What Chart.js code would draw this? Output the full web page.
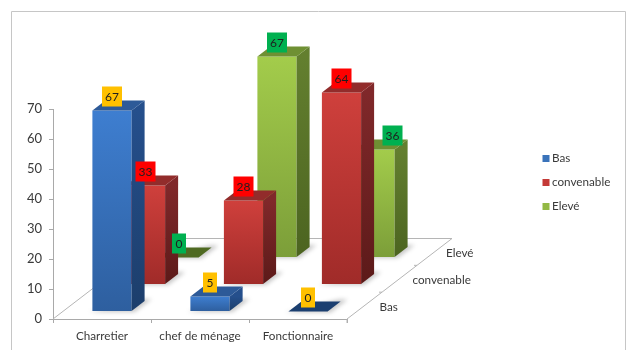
<!DOCTYPE html>
<html lang="fr">
<head>
<meta charset="utf-8">
<title>Niveau par profession</title>
<script src="https://cdn.jsdelivr.net/npm/chart.js@4"></script>
<style>
    html, body { margin: 0; padding: 0; background: #fff; }
    #wrap { position: relative; width: 626px; height: 350px; }
</style>
</head>
<body>
<div id="wrap"><canvas id="niveauChart" width="626" height="350"></canvas></div>
<script>
// Data
const categories = ['Charretier', 'chef de ménage', 'Fonctionnaire'];
const yTicks = [0, 10, 20, 30, 40, 50, 60, 70];
const bas = [67, 5, 0];
const convenable = [33, 28, 64];
const eleve = [0, 67, 36];

// Perspective of the floor: each row moves back and to the right
const ROW_DX = 33.5;
const ROW_DY = -27;
const FIRST_ROW_DX = 10;
const FIRST_ROW_DY = -7.5;
const BAR_DX = 13;
const BAR_DY = -10;
const FLOOR_DX = 105;
const FLOOR_DY = -80.5;
const FONT = 'Lato, "Open Sans", sans-serif';
const TEXT_SIZE = 11.7;
const TEXT_COLOR = '#3a3a3a';

const palette = {
    blue: { top: '#3e7ed0', bottom: '#2e5f9f', cap: '#2d5a98', sideTop: '#254f8c', sideBottom: '#1c3e6b', flat: '#1b3f70', label: '#ffc000', swatch: '#3a73ba' },
    red: { top: '#cf403c', bottom: '#a02b29', cap: '#922c2b', sideTop: '#80282a', sideBottom: '#5c1a19', flat: '#7a2220', label: '#ff0000', swatch: '#c43a37' },
    green: { top: '#a3cc4b', bottom: '#7c9e39', cap: '#6f9033', sideTop: '#637f2f', sideBottom: '#4c6420', flat: '#4f6a22', label: '#00b050', swatch: '#93b944' }
};

function fillPoly(ctx, points, style) {
    ctx.fillStyle = style;
    ctx.beginPath();
    points.forEach((p, i) => i ? ctx.lineTo(p[0], p[1]) : ctx.moveTo(p[0], p[1]));
    ctx.closePath();
    ctx.fill();
}

function rowShift(row) {
    return {
        dx: FIRST_ROW_DX + row * ROW_DX,
        dy: FIRST_ROW_DY + row * ROW_DY
    };
}

// Bar controller that paints each bar as a box standing on the floor
class Bar3dController extends Chart.BarController {
    draw() {
        const ctx = this.chart.ctx;
        const colors = this.getDataset().colors;
        const shift = rowShift(this.index);

        this.getMeta().data.forEach(bar => {
            const left = bar.x - bar.width / 2 + shift.dx;
            const right = left + bar.width;
            const top = bar.y + shift.dy;
            const base = bar.base + shift.dy;

            // soft shadow on the floor
            ctx.save();
            ctx.filter = 'blur(2px)';
            fillPoly(ctx, [
                [left - 3, base + 1], [right + 3, base + 1],
                [right + BAR_DX + 7, base + BAR_DY - 2], [right + BAR_DX - 2, base + BAR_DY - 2]
            ], 'rgba(0, 0, 0, 0.22)');
            ctx.restore();

            if (base - top < 1) {
                fillPoly(ctx, [
                    [left, base], [right, base],
                    [right + BAR_DX, base + BAR_DY], [left + BAR_DX, base + BAR_DY]
                ], colors.flat);
                return;
            }

            const front = ctx.createLinearGradient(0, top, 0, base);
            front.addColorStop(0, colors.top);
            front.addColorStop(1, colors.bottom);
            ctx.fillStyle = front;
            ctx.fillRect(left, top, right - left, base - top);

            const side = ctx.createLinearGradient(0, top, 0, base);
            side.addColorStop(0, colors.sideTop);
            side.addColorStop(1, colors.sideBottom);
            fillPoly(ctx, [
                [right, top], [right + BAR_DX, top + BAR_DY],
                [right + BAR_DX, base + BAR_DY], [right, base]
            ], side);

            fillPoly(ctx, [
                [left, top], [left + BAR_DX, top + BAR_DY],
                [right + BAR_DX, top + BAR_DY], [right, top]
            ], colors.cap);
        });
    }
}
Bar3dController.id = 'bar3d';
Bar3dController.defaults = Chart.BarController.defaults;
Bar3dController.overrides = Chart.BarController.overrides;
Chart.register(Bar3dController);

// Frame, floor outline and the labels of the depth axis
const floorPlugin = {
    id: 'floor',
    beforeDatasetsDraw(chart) {
        const ctx = chart.ctx;
        const { left, right, bottom } = chart.chartArea;

        ctx.save();
        ctx.strokeStyle = '#c6c6c6';
        ctx.lineWidth = 1;
        ctx.beginPath();
        ctx.moveTo(11.5, 350);
        ctx.lineTo(11.5, 11.5);
        ctx.lineTo(625.5, 11.5);
        ctx.lineTo(625.5, 350);
        ctx.stroke();

        ctx.strokeStyle = '#b5b5b5';
        ctx.beginPath();
        ctx.moveTo(left, bottom);
        ctx.lineTo(left + FLOOR_DX, bottom + FLOOR_DY);
        ctx.lineTo(right + FLOOR_DX, bottom + FLOOR_DY);
        ctx.lineTo(right, bottom);
        ctx.stroke();

        for (let i = 1; i < 3; i++) {
            const x = right + FLOOR_DX * i / 3;
            const y = bottom + FLOOR_DY * i / 3;
            ctx.beginPath();
            ctx.moveTo(x, y);
            ctx.lineTo(x - 3, y);
            ctx.stroke();
        }
        ctx.beginPath();
        ctx.moveTo(right, bottom);
        ctx.lineTo(right, bottom + 4);
        ctx.stroke();

        const offsets = [15, 13, 11.5];
        ctx.font = TEXT_SIZE + 'px ' + FONT;
        ctx.fillStyle = TEXT_COLOR;
        ctx.textAlign = 'left';
        ctx.textBaseline = 'middle';
        chart.data.datasets.forEach((ds, i) => {
            const x = right + FLOOR_DX * (i + 0.5) / 3 + offsets[i];
            const y = bottom + FLOOR_DY * (i + 0.5) / 3 + 1.5;
            ctx.fillText(ds.label, x, y);
        });
        ctx.restore();
    }
};

// Value boxes above the bars, then the legend on the right
const annotationsPlugin = {
    id: 'annotations',
    afterDatasetsDraw(chart) {
        const ctx = chart.ctx;
        ctx.save();
        ctx.font = '12px ' + FONT;
        ctx.textAlign = 'center';
        ctx.textBaseline = 'middle';

        chart.data.datasets.forEach((ds, i) => {
            const shift = rowShift(i);
            chart.getDatasetMeta(i).data.forEach((bar, j) => {
                const text = String(ds.data[j]);
                const w = text.length > 1 ? 20 : 14;
                // the 36 box sits clear of the red bar in front of it
                const cx = bar.x + shift.dx + (i === 2 && j === 2 ? 17.5 : 0);
                const cy = bar.y + shift.dy - 14;
                ctx.fillStyle = ds.colors.label;
                ctx.fillRect(cx - w / 2, cy - 10, w, 20);
                ctx.fillStyle = '#1f1f1f';
                ctx.fillText(text, cx, cy + 0.5);
            });
        });

        ctx.font = TEXT_SIZE + 'px ' + FONT;
        ctx.textAlign = 'left';
        chart.data.datasets.forEach((ds, i) => {
            const y = 158.5 + i * 24;
            ctx.fillStyle = ds.colors.swatch;
            ctx.fillRect(542.5, y - 3.5, 7, 7);
            ctx.fillStyle = TEXT_COLOR;
            ctx.fillText(ds.label, 552, y);
        });
        ctx.restore();
    }
};

function makeDataset(label, data, colors) {
    return {
        label: label,
        data: data,
        colors: colors,
        clip: false,
        grouped: false,
        categoryPercentage: 0.4,
        barPercentage: 1
    };
}

new Chart(document.getElementById('niveauChart'), {
    type: 'bar3d',
    data: {
        labels: categories,
        datasets: [
            makeDataset('Bas', bas, palette.blue),
            makeDataset('convenable', convenable, palette.red),
            makeDataset('Elevé', eleve, palette.green)
        ]
    },
    options: {
        responsive: false,
        animation: false,
        layout: { padding: { top: 109, right: 279, left: 0, bottom: 0 } },
        plugins: {
            legend: { display: false },
            tooltip: { enabled: false }
        },
        scales: {
            x: {
                type: 'category',
                offset: true,
                afterFit: scale => { scale.height = 31; },
                grid: { offset: true, drawOnChartArea: false, color: '#a9a9a9', tickLength: 4 },
                border: { color: '#a9a9a9' },
                ticks: {
                    color: TEXT_COLOR,
                    font: { family: FONT, size: TEXT_SIZE },
                    padding: 6,
                    maxRotation: 0,
                    autoSkip: false
                }
            },
            y: {
                type: 'linear',
                min: yTicks[0],
                max: yTicks[yTicks.length - 1],
                afterFit: scale => { scale.width = 53; },
                afterBuildTicks: scale => { scale.ticks = yTicks.map(v => ({ value: v })); },
                grid: { drawOnChartArea: false, color: '#a9a9a9', tickLength: 4 },
                border: { color: '#a9a9a9' },
                ticks: {
                    color: TEXT_COLOR,
                    font: { family: FONT, size: 13 },
                    padding: 7
                }
            }
        }
    },
    plugins: [floorPlugin, annotationsPlugin]
});
</script>
</body>
</html>
